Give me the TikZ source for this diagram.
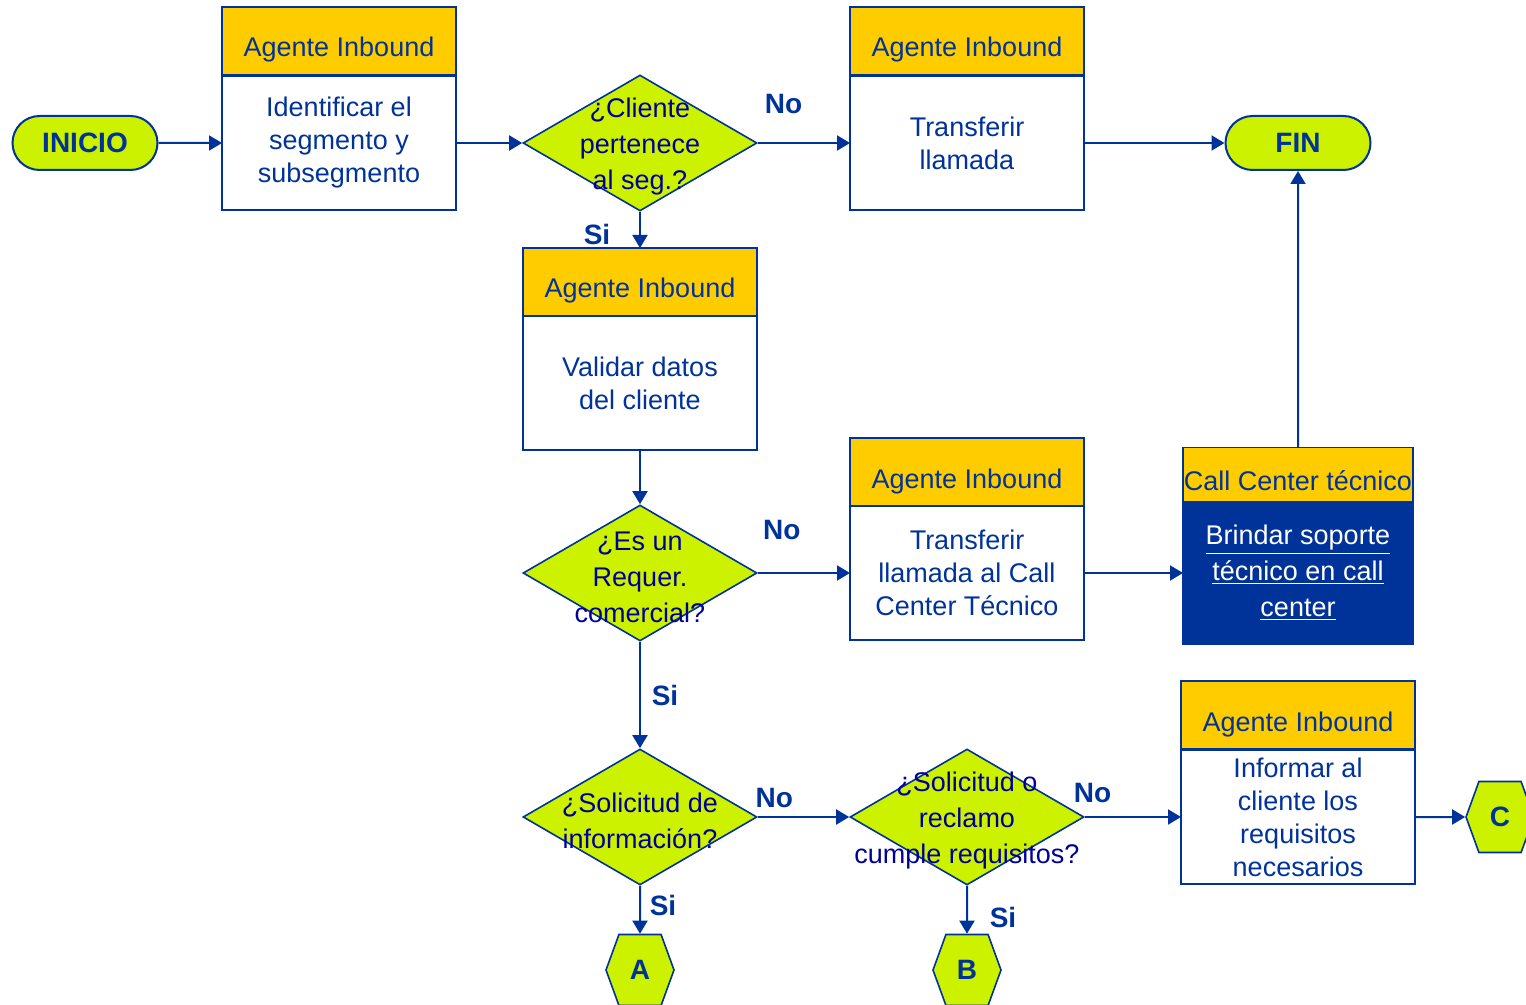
\documentclass[tikz,border=0pt]{standalone}
\usepackage{fontspec}
\setmainfont{Liberation Sans}
\usetikzlibrary{shapes.geometric, shapes.misc, shapes.symbols, arrows.meta}
\definecolor{lima}{RGB}{204,242,0}
\definecolor{oro}{RGB}{255,204,0}
\definecolor{azul}{RGB}{0,51,153}
\definecolor{marino}{RGB}{0,0,153}

\begin{document}
\begin{tikzpicture}
  [
    x=0.5pt, y=-0.5pt,
    txt/.style={font=\fontsize{13.5pt}{16.5pt}\selectfont,text=azul,align=center},
    hdr/.style={txt,draw=azul,line width=0.8pt,fill=oro,minimum width=117pt,minimum height=34pt,inner sep=0pt,outer sep=0pt,text height=18.8pt,text depth=2.8pt},
    body/.style={txt,draw=azul,line width=0.8pt,fill=white,minimum width=117pt,minimum height=67pt,inner sep=0pt,outer sep=0pt},
    term/.style={rounded rectangle,draw=azul,line width=1pt,fill=lima,text=azul,font=\fontsize{14pt}{16pt}\selectfont\bfseries,minimum width=72.5pt,minimum height=27pt,inner sep=0pt},
    pregunta/.style={diamond,draw=azul,line width=0.8pt,fill=lima,minimum width=117pt,minimum height=68pt,inner sep=0pt},
    qtxt/.style={font=\fontsize{13.5pt}{18pt}\selectfont,text=marino,align=center,inner sep=0pt,yshift=-2pt},
    conector/.style={signal,signal to=west and east,signal pointer angle=140,draw=azul,line width=0.8pt,fill=lima,text=azul,font=\fontsize{14pt}{16pt}\selectfont\bfseries,minimum width=34pt,minimum height=35.5pt,inner sep=0pt},
    flecha/.style={draw=azul,line width=1pt,-{Triangle[length=6.5pt,width=7.5pt]}},
    rotulo/.style={text=azul,font=\fontsize{14pt}{16pt}\selectfont\bfseries,inner sep=0pt}
  ]
  \useasboundingbox (0,0) rectangle (1526,1005);
  % inicio / fin
  \node[term] (inicio) at (85,143) {INICIO};
  \node[term] (fin) at (1298,143) {FIN};
  % identificar segmento
  \node[hdr] (h1) at (339,41) {Agente Inbound};
  \node[body] (b1) at (339,143) {Identificar el\\segmento y\\subsegmento};
  % pertenece al segmento?
  \node[pregunta,label={[qtxt]center:{¿Cliente\\pertenece\\al seg.?}}] (q1) at (640,143) {};
  % transferir llamada
  \node[hdr] (h2) at (967,41) {Agente Inbound};
  \node[body] (b2) at (967,143) {Transferir\\llamada};
  % validar datos
  \node[hdr] (h3) at (640,282) {Agente Inbound};
  \node[body] (b3) at (640,383) {Validar datos\\del cliente};
  % requerimiento comercial?
  \node[pregunta,label={[qtxt]center:{¿Es un\\Requer.\\comercial?}}] (q2) at (640,573) {};
  % transferir al call center
  \node[hdr] (h4) at (967,472) {Agente Inbound};
  \node[body] (b4) at (967,573) {Transferir\\llamada al Call\\Center Técnico};
  % call center tecnico
  \node[hdr,minimum width=115pt,minimum height=27pt] (h5) at (1298,474.5) {Call Center técnico};
  \node[body,fill=azul,text=white,minimum width=115pt,minimum height=71.5pt,
        font=\fontsize{13.5pt}{18pt}\selectfont] (b5) at (1298,573)
    {\underline{Brindar soporte}\\\underline{técnico en call}\\\underline{center}};
  % solicitud de informacion?
  \node[pregunta,label={[qtxt]center:{¿Solicitud de\\información?}}] (q3) at (640,817) {};
  % cumple requisitos?
  \node[pregunta,label={[qtxt]center:{¿Solicitud o\\reclamo\\cumple requisitos?}}] (q4) at (967,817) {};
  % informar requisitos
  \node[hdr] (h6) at (1298,715) {Agente Inbound};
  \node[body] (b6) at (1298,817) {Informar al\\cliente los\\requisitos\\necesarios};
  % conectores
  \node[conector] (A) at (640,970) {A};
  \node[conector] (B) at (967,970) {B};
  \node[conector] (C) at (1500,817) {C};
  % edges
  \draw[flecha] (inicio) -- (b1);
  \draw[flecha] (b1) -- (q1);
  \draw[flecha] (q1) -- node[rotulo,pos=0.28,yshift=19.5pt] {No} (b2);
  \draw[flecha] (b2) -- (fin);
  \draw[flecha] (q1) -- node[rotulo,xshift=-21.5pt,yshift=-2.5pt] {Si} (h3);
  \draw[flecha] (b3) -- (q2);
  \draw[flecha] (q2) -- node[rotulo,pos=0.26,yshift=21.5pt] {No} (b4);
  \draw[flecha] (b4) -- (b5);
  \draw[flecha] (h5) -- (fin);
  \draw[flecha] (q2) -- node[rotulo,xshift=12.5pt] {Si} (q3);
  \draw[flecha] (q3) -- node[rotulo,pos=0.18,yshift=9.5pt] {No} (q4);
  \draw[flecha] (q4) -- node[rotulo,pos=0.08,yshift=12pt] {No} (b6);
  \draw[flecha] (b6) -- (C);
  \draw[flecha] (q3) -- node[rotulo,xshift=11.5pt,yshift=2pt] {Si} (A);
  \draw[flecha] (q4) -- node[rotulo,xshift=18pt,yshift=-4pt] {Si} (B);
\end{tikzpicture}
\end{document}
